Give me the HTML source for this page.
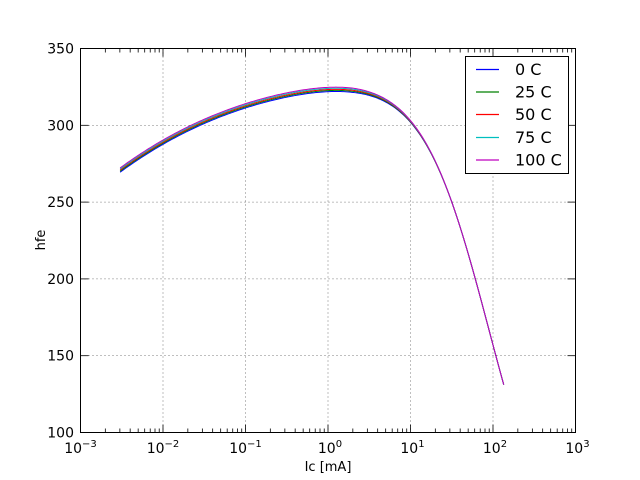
<!DOCTYPE html>
<html><head><meta charset="utf-8"><style>
html,body{margin:0;padding:0;background:#fff;}
svg{display:block;font-family:"DejaVu Sans","Liberation Sans",sans-serif;}
</style></head><body>
<svg id="s" width="640" height="480" viewBox="0 0 640 480" xmlns="http://www.w3.org/2000/svg">
<rect width="640" height="480" fill="#fff"/>
<g id="grid" stroke="#000" stroke-width="0.5" stroke-dasharray="1,3"></g>
<g id="ticks" stroke="#000" stroke-width="0.8"></g>
<g id="curves" fill="none" stroke-width="1"></g>
<rect x="80.5" y="48.5" width="495" height="384" fill="none" stroke="#000" stroke-width="1"/>
<g id="labels" font-size="14" fill="#000"></g>
<text x="328" y="471" font-size="13" text-anchor="middle">Ic [mA]</text>
<text x="0" y="0" font-size="13" text-anchor="middle" transform="translate(45,240) rotate(-90)">hfe</text>
<g>
<rect x="465.5" y="56.5" width="103" height="117" fill="#fff" stroke="#000"/>
<line x1="476" x2="499" y1="69.5" y2="69.5" stroke="#0000ff" stroke-width="1.2"/>
<line x1="476" x2="499" y1="92" y2="92" stroke="#008000" stroke-width="1.2"/>
<line x1="476" x2="499" y1="114.5" y2="114.5" stroke="#ff0000" stroke-width="1.2"/>
<line x1="476" x2="499" y1="137.5" y2="137.5" stroke="#00bfbf" stroke-width="1.2"/>
<line x1="476" x2="499" y1="160" y2="160" stroke="#bf00bf" stroke-width="1.2"/>
<g font-size="16"><text x="515" y="75">0 C</text><text x="515" y="97.5">25 C</text><text x="515" y="120">50 C</text><text x="515" y="143">75 C</text><text x="515" y="165.5">100 C</text></g>
</g>
</svg>
<script>
var NS="http://www.w3.org/2000/svg";
function el(p,t,a,txt){var e=document.createElementNS(NS,t);for(var k in a)e.setAttribute(k,a[k]);if(txt!=null)e.textContent=txt;document.getElementById(p).appendChild(e);return e;}
function X(L){return 80.5+82.5*(L+3);}
function Y(h){return 432.5-1.536*(h-100);}
for(var d=-3;d<=3;d++){var x=X(d);
 if(d>-3&&d<3)el("grid","line",{x1:x,x2:x,y1:48.5,y2:432.5});
 el("ticks","line",{x1:x,x2:x,y1:432.5,y2:424.5});el("ticks","line",{x1:x,x2:x,y1:48.5,y2:56.5});
 var t=el("labels","text",{x:x+(d<0?0:2),y:453,"text-anchor":"middle"});t.textContent="10";
 var s=document.createElementNS(NS,"tspan");s.setAttribute("font-size","10");s.setAttribute("dy","-6");s.textContent=String(d).replace("-","\u2212");t.appendChild(s);
 if(d<3)for(var m=2;m<10;m++){var xm=X(d+Math.log10(m));
  el("ticks","line",{x1:xm,x2:xm,y1:432.5,y2:428.5});el("ticks","line",{x1:xm,x2:xm,y1:48.5,y2:52.5});}
}
for(var h=100;h<=350;h+=50){var y=Y(h);
 if(h>100&&h<350)el("grid","line",{x1:80.5,x2:575.5,y1:y,y2:y});
 el("ticks","line",{x1:80.5,x2:88.5,y1:y,y2:y});el("ticks","line",{x1:575.5,x2:567.5,y1:y,y2:y});
 el("labels","text",{x:74,y:y+5,"text-anchor":"end"},String(h));
}
function hfe(L){return 340/(1+0.0425*Math.pow(10,-0.309*L)+0.00918*Math.pow(10,1.05*L));}
var cr=["#0000ff","#008000","#ff0000","#00bfbf","#bf00bf"];
for(var i=0;i<5;i++){
 var d="";
 for(var j=0;j<=240;j++){var L=-2.52+(2.13+2.52)*j/240;
  var f=Math.max(0,1-Math.max(0,L-0.3)/1.2);
  var h=hfe(L)+(i-2)*0.7*f;
  d+=(j?" L":"M")+X(L).toFixed(2)+","+Y(h).toFixed(2);}
 el("curves","path",{d:d,stroke:cr[i]});
}
</script>
</body></html>
